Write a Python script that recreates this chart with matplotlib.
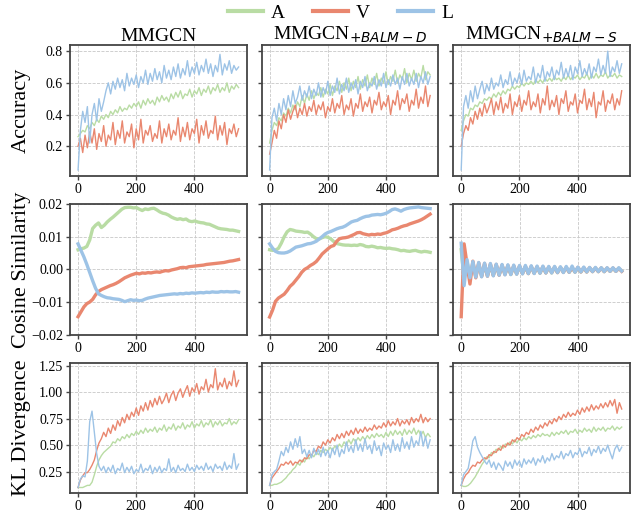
import numpy as np
import matplotlib
matplotlib.use("Agg")
import matplotlib.pyplot as plt

plt.rcParams['font.family'] = ['Liberation Serif', 'DejaVu Serif']
plt.rcParams['mathtext.fontset'] = 'dejavusans'

# ---- data ----
titles = ["MMGCN", "MMGCN$_{+BALM-D}$", "MMGCN$_{+BALM-S}$"]
row_labels = ["Accuracy", "Cosine Similarity", "KL Divergence"]
modalities = ["A", "V", "L"]
colors = {"A": "#b9dca4", "V": "#e9876f", "L": "#9dc3e6"}

# accuracy / KL sampled every 8 epochs, cosine similarity every 10 epochs
step_noisy = 8
step_cos = 10

acc_mm_A = [0.26, 0.28, 0.30, 0.29, 0.33, 0.31, 0.35, 0.33, 0.37, 0.35, 0.39, 0.37, 0.40, 0.38, 0.42, 0.40, 0.43, 0.41,
            0.45, 0.42, 0.44, 0.43, 0.46, 0.44, 0.47, 0.45, 0.48, 0.44, 0.49, 0.46, 0.50, 0.47, 0.49, 0.46, 0.51, 0.48,
            0.52, 0.49, 0.51, 0.48, 0.53, 0.50, 0.54, 0.51, 0.55, 0.50, 0.53, 0.52, 0.56, 0.51, 0.55, 0.53, 0.57, 0.52,
            0.56, 0.54, 0.58, 0.53, 0.57, 0.55, 0.59, 0.54, 0.57, 0.55, 0.60, 0.54, 0.58, 0.56, 0.59, 0.57]
acc_mm_V = [0.20, 0.25, 0.16, 0.27, 0.19, 0.29, 0.22, 0.31, 0.18, 0.28, 0.23, 0.33, 0.20, 0.27, 0.24, 0.35, 0.21, 0.30,
            0.25, 0.36, 0.22, 0.29, 0.26, 0.34, 0.19, 0.31, 0.24, 0.37, 0.22, 0.30, 0.27, 0.33, 0.23, 0.28, 0.25, 0.36,
            0.22, 0.31, 0.26, 0.34, 0.24, 0.30, 0.27, 0.38, 0.23, 0.32, 0.26, 0.35, 0.24, 0.31, 0.28, 0.37, 0.22, 0.33,
            0.27, 0.36, 0.25, 0.30, 0.28, 0.39, 0.24, 0.33, 0.27, 0.35, 0.21, 0.31, 0.28, 0.34, 0.26, 0.31]
acc_mm_L = [0.05, 0.30, 0.42, 0.35, 0.45, 0.22, 0.40, 0.47, 0.36, 0.50, 0.42, 0.48, 0.55, 0.60, 0.53, 0.61, 0.56, 0.63,
            0.57, 0.62, 0.55, 0.66, 0.58, 0.63, 0.59, 0.65, 0.57, 0.64, 0.60, 0.68, 0.59, 0.66, 0.61, 0.69, 0.62, 0.67,
            0.60, 0.71, 0.63, 0.68, 0.62, 0.70, 0.64, 0.72, 0.63, 0.69, 0.65, 0.74, 0.64, 0.70, 0.66, 0.73, 0.65, 0.71,
            0.67, 0.75, 0.66, 0.72, 0.64, 0.71, 0.67, 0.78, 0.65, 0.72, 0.68, 0.74, 0.66, 0.71, 0.68, 0.70]

acc_d_A = [0.22, 0.30, 0.35, 0.33, 0.38, 0.36, 0.41, 0.39, 0.44, 0.41, 0.46, 0.43, 0.48, 0.45, 0.52, 0.47, 0.53, 0.49,
           0.55, 0.50, 0.54, 0.52, 0.57, 0.51, 0.56, 0.53, 0.59, 0.52, 0.58, 0.55, 0.61, 0.54, 0.60, 0.56, 0.63, 0.55,
           0.61, 0.57, 0.64, 0.56, 0.62, 0.58, 0.65, 0.57, 0.63, 0.59, 0.66, 0.58, 0.63, 0.60, 0.67, 0.59, 0.64, 0.61,
           0.68, 0.60, 0.65, 0.62, 0.69, 0.60, 0.66, 0.62, 0.68, 0.61, 0.66, 0.63, 0.71, 0.62, 0.67, 0.65]
acc_d_V = [0.15, 0.22, 0.30, 0.25, 0.36, 0.31, 0.40, 0.35, 0.43, 0.37, 0.42, 0.46, 0.38, 0.44, 0.40, 0.47, 0.39, 0.45,
           0.42, 0.49, 0.40, 0.46, 0.43, 0.48, 0.38, 0.45, 0.42, 0.50, 0.41, 0.47, 0.44, 0.52, 0.40, 0.46, 0.43, 0.50,
           0.39, 0.47, 0.44, 0.53, 0.42, 0.48, 0.45, 0.51, 0.41, 0.49, 0.46, 0.54, 0.43, 0.48, 0.45, 0.52, 0.40, 0.49,
           0.46, 0.55, 0.43, 0.50, 0.47, 0.53, 0.42, 0.49, 0.46, 0.56, 0.44, 0.51, 0.47, 0.58, 0.45, 0.52]
acc_d_L = [0.05, 0.38, 0.44, 0.36, 0.47, 0.40, 0.50, 0.43, 0.52, 0.45, 0.55, 0.47, 0.51, 0.58, 0.49, 0.55, 0.51, 0.58,
           0.50, 0.56, 0.52, 0.60, 0.51, 0.57, 0.53, 0.61, 0.52, 0.58, 0.54, 0.63, 0.53, 0.59, 0.55, 0.63, 0.54, 0.60,
           0.56, 0.62, 0.53, 0.61, 0.57, 0.64, 0.55, 0.60, 0.58, 0.64, 0.56, 0.62, 0.58, 0.66, 0.57, 0.62, 0.58, 0.65,
           0.59, 0.63, 0.56, 0.64, 0.59, 0.66, 0.58, 0.63, 0.59, 0.66, 0.57, 0.64, 0.60, 0.67, 0.59, 0.64]

acc_s_A = [0.30, 0.36, 0.40, 0.39, 0.44, 0.43, 0.46, 0.45, 0.48, 0.47, 0.50, 0.49, 0.51, 0.50, 0.53, 0.51, 0.54, 0.52,
           0.55, 0.53, 0.56, 0.55, 0.58, 0.56, 0.58, 0.57, 0.60, 0.58, 0.60, 0.59, 0.61, 0.59, 0.62, 0.60, 0.62, 0.60,
           0.63, 0.61, 0.63, 0.61, 0.64, 0.62, 0.63, 0.61, 0.64, 0.62, 0.65, 0.62, 0.64, 0.63, 0.65, 0.62, 0.64, 0.63,
           0.66, 0.62, 0.65, 0.63, 0.66, 0.63, 0.65, 0.64, 0.67, 0.63, 0.65, 0.64, 0.66, 0.63, 0.65, 0.64]
acc_s_V = [0.20, 0.28, 0.33, 0.30, 0.38, 0.34, 0.42, 0.37, 0.44, 0.39, 0.47, 0.41, 0.45, 0.50, 0.40, 0.48, 0.43, 0.51,
           0.41, 0.47, 0.44, 0.53, 0.40, 0.48, 0.45, 0.52, 0.42, 0.49, 0.46, 0.55, 0.43, 0.48, 0.45, 0.53, 0.41, 0.50,
           0.46, 0.58, 0.43, 0.49, 0.45, 0.52, 0.40, 0.50, 0.47, 0.55, 0.42, 0.48, 0.46, 0.53, 0.41, 0.49, 0.47, 0.56,
           0.43, 0.50, 0.45, 0.54, 0.38, 0.48, 0.46, 0.55, 0.42, 0.49, 0.47, 0.53, 0.43, 0.50, 0.46, 0.55]
acc_s_L = [0.05, 0.45, 0.52, 0.44, 0.55, 0.48, 0.58, 0.50, 0.56, 0.61, 0.53, 0.59, 0.55, 0.63, 0.56, 0.60, 0.58, 0.65,
           0.57, 0.62, 0.59, 0.67, 0.58, 0.63, 0.60, 0.66, 0.59, 0.68, 0.61, 0.64, 0.62, 0.70, 0.60, 0.66, 0.63, 0.71,
           0.61, 0.67, 0.64, 0.70, 0.62, 0.68, 0.65, 0.73, 0.63, 0.69, 0.64, 0.71, 0.62, 0.70, 0.66, 0.74, 0.64, 0.69,
           0.65, 0.72, 0.63, 0.70, 0.67, 0.75, 0.65, 0.71, 0.66, 0.80, 0.64, 0.70, 0.67, 0.74, 0.66, 0.72]

# cosine similarity, in units of 1e-3
cos_mm_A = [6.0, 6.3, 6.5, 7.0, 9.0, 12.5, 13.5, 14.2, 12.8, 13.5, 14.5, 15.3, 16.0, 16.8, 17.6, 18.4, 18.9, 19.0,
            19.0, 18.8, 18.9, 18.4, 18.0, 18.5, 18.3, 18.6, 18.7, 18.2, 17.6, 17.2, 17.0, 16.6, 16.0, 15.6, 15.3, 15.5,
            15.2, 15.4, 14.8, 14.6, 14.8, 14.5, 14.3, 14.2, 13.9, 13.8, 13.4, 13.0, 12.6, 12.4, 12.3, 12.2, 12.0, 12.0,
            11.8, 11.6]
cos_mm_V = [-14.5, -13.0, -11.5, -10.5, -10.0, -9.2, -7.8, -6.8, -6.2, -5.8, -5.4, -5.0, -4.7, -4.3, -3.8, -3.2, -2.6,
            -2.2, -1.8, -1.5, -1.2, -1.4, -1.1, -1.2, -1.0, -1.1, -0.9, -0.8, -0.9, -0.6, -0.4, -0.5, -0.2, 0.0, 0.2,
            0.5, 0.6, 0.5, 0.8, 0.9, 1.0, 1.1, 1.2, 1.3, 1.5, 1.6, 1.7, 1.8, 1.9, 2.0, 2.1, 2.3, 2.5, 2.6, 2.8, 3.0]
cos_mm_L = [7.8, 5.8, 3.8, 1.5, -1.0, -3.5, -5.8, -7.5, -8.0, -8.4, -8.7, -8.8, -9.0, -9.1, -9.2, -9.5, -9.9, -9.6,
            -9.3, -9.5, -9.4, -9.6, -9.5, -9.1, -8.8, -8.6, -8.4, -8.2, -8.0, -7.9, -7.8, -7.7, -7.6, -7.5, -7.6, -7.4,
            -7.5, -7.3, -7.4, -7.2, -7.3, -7.2, -7.1, -7.2, -7.0, -7.1, -6.9, -7.0, -7.0, -6.8, -6.9, -6.8, -6.9, -6.9,
            -6.8, -7.0]

cos_d_A = [6.0, 5.8, 5.9, 6.4, 8.0, 10.0, 11.5, 12.2, 12.0, 11.7, 11.6, 11.5, 11.3, 11.4, 10.8, 10.0, 9.4, 9.3, 9.7,
           10.0, 9.8, 9.3, 8.5, 7.9, 7.7, 7.5, 7.4, 7.4, 7.3, 7.4, 7.3, 7.6, 7.4, 7.0, 6.9, 7.1, 6.9, 6.6, 6.7, 6.5,
           6.4, 6.5, 6.3, 6.2, 6.0, 5.7, 5.8, 5.6, 5.5, 5.7, 5.8, 5.5, 5.3, 5.5, 5.4, 5.2]
cos_d_V = [-14.6, -12.5, -9.8, -8.8, -8.2, -7.6, -6.5, -5.2, -4.4, -3.3, -2.2, -0.9, 0.0, 0.5, 1.2, 1.7, 2.4, 3.5,
           4.7, 5.5, 6.3, 7.0, 7.3, 8.6, 9.4, 9.6, 9.7, 9.9, 10.3, 10.7, 11.2, 11.3, 10.9, 10.7, 10.5, 10.7, 10.6, 10.8,
           10.7, 11.0, 11.2, 11.6, 12.1, 12.3, 12.6, 13.0, 13.3, 13.5, 13.9, 14.2, 14.5, 14.8, 15.2, 15.7, 16.3, 16.9]
cos_d_L = [7.8, 6.5, 5.5, 5.1, 5.0, 5.0, 5.2, 5.6, 6.2, 6.8, 7.0, 7.2, 7.5, 7.8, 7.9, 8.2, 8.6, 9.3, 10.0, 10.8, 11.3,
           11.6, 12.0, 12.4, 12.7, 12.9, 13.3, 13.9, 14.5, 14.8, 15.0, 15.5, 15.9, 16.2, 16.3, 16.6, 16.7, 16.8, 16.7,
           16.9, 17.2, 17.7, 18.3, 18.5, 18.2, 17.8, 18.3, 18.6, 18.8, 18.9, 19.0, 19.1, 18.9, 18.8, 18.7, 18.6]

cos_s_A = [6.0, -3.0, 2.2, -2.2, 1.8, -2.2, 1.6, -2.0, 1.4, -2.0, 1.3, -1.8, 1.2, -1.7, 1.1, -1.5, 1.0, -1.6, 0.9,
           -1.4, 0.9, -1.3, 0.8, -1.3, 0.8, -1.2, 0.7, -1.2, 0.7, -1.1, 0.6, -1.1, 0.6, -1.0, 0.6, -0.9, 0.5, -0.9,
           0.5, -0.9, 0.5, -0.8, 0.4, -0.8, 0.4, -0.7, 0.4, -0.7, 0.4, -0.7, 0.3, -0.6, 0.3, -0.6, 0.3, -0.5]
cos_s_V = [-14.5, 7.8, 1.5, -4.5, 2.5, -2.6, 2.0, -2.2, 1.8, -2.1, 1.6, -1.9, 1.5, -1.8, 1.3, -1.6, 1.2, -1.5, 1.1,
           -1.4, 1.0, -1.3, 0.9, -1.3, 0.9, -1.2, 0.8, -1.1, 0.8, -1.1, 0.7, -1.0, 0.7, -1.0, 0.6, -0.9, 0.6, -0.9,
           0.5, -0.8, 0.6, -0.8, 0.5, -0.8, 0.5, -0.7, 0.4, -0.7, 0.4, -0.7, 0.4, -0.6, 0.4, -0.6, 0.3, -0.6]
cos_s_L = [8.0, -5.0, 3.0, -2.6, 2.4, -2.4, 2.1, -2.3, 1.9, -2.1, 1.8, -2.0, 1.6, -1.8, 1.5, -1.7, 1.4, -1.6, 1.3,
           -1.5, 1.2, -1.4, 1.2, -1.3, 1.1, -1.3, 1.0, -1.2, 1.0, -1.1, 0.9, -1.1, 0.9, -1.0, 0.8, -1.0, 0.9, -0.9,
           1.0, -0.9, 0.7, -0.8, 0.7, -0.8, 0.6, -0.7, 0.6, -0.7, 0.5, -0.7, 0.5, -0.6, 0.5, -0.6, 0.5, -0.5]

kl_mm_A = [0.10, 0.10, 0.10, 0.11, 0.12, 0.12, 0.15, 0.22, 0.30, 0.36, 0.40, 0.43, 0.45, 0.47, 0.49, 0.53, 0.52, 0.56,
           0.54, 0.58, 0.56, 0.60, 0.57, 0.61, 0.59, 0.63, 0.60, 0.64, 0.61, 0.66, 0.62, 0.65, 0.63, 0.67, 0.62, 0.66,
           0.64, 0.69, 0.63, 0.67, 0.65, 0.70, 0.64, 0.68, 0.66, 0.71, 0.65, 0.69, 0.67, 0.72, 0.66, 0.70, 0.68, 0.73,
           0.67, 0.71, 0.69, 0.74, 0.67, 0.72, 0.69, 0.73, 0.68, 0.71, 0.70, 0.75, 0.69, 0.72, 0.70, 0.74]
kl_mm_V = [0.10, 0.17, 0.21, 0.24, 0.24, 0.27, 0.31, 0.36, 0.45, 0.52, 0.56, 0.62, 0.58, 0.66, 0.61, 0.69, 0.64, 0.73,
           0.68, 0.76, 0.71, 0.79, 0.74, 0.81, 0.77, 0.85, 0.78, 0.87, 0.82, 0.90, 0.83, 0.92, 0.86, 0.94, 0.88, 0.96,
           0.89, 0.93, 0.99, 0.90, 0.97, 1.01, 0.92, 0.99, 1.03, 0.95, 1.01, 1.06, 0.96, 1.04, 1.00, 1.08, 0.98, 1.05,
           1.02, 1.12, 1.00, 1.07, 1.04, 1.22, 1.02, 1.09, 1.05, 1.13, 1.03, 1.10, 1.06, 1.20, 1.05, 1.11]
kl_mm_L = [0.10, 0.18, 0.21, 0.20, 0.35, 0.72, 0.82, 0.62, 0.42, 0.30, 0.26, 0.30, 0.24, 0.29, 0.25, 0.31, 0.23, 0.28,
           0.26, 0.33, 0.24, 0.29, 0.25, 0.30, 0.23, 0.27, 0.25, 0.32, 0.24, 0.28, 0.26, 0.31, 0.23, 0.29, 0.25, 0.30,
           0.24, 0.28, 0.26, 0.37, 0.25, 0.29, 0.24, 0.31, 0.26, 0.28, 0.25, 0.32, 0.26, 0.29, 0.25, 0.31, 0.27, 0.30,
           0.26, 0.33, 0.27, 0.30, 0.25, 0.32, 0.28, 0.30, 0.26, 0.34, 0.27, 0.31, 0.28, 0.42, 0.27, 0.32]

kl_d_A = [0.12, 0.12, 0.13, 0.13, 0.14, 0.15, 0.17, 0.19, 0.22, 0.24, 0.27, 0.29, 0.33, 0.31, 0.36, 0.34, 0.39, 0.37,
          0.41, 0.39, 0.43, 0.41, 0.45, 0.43, 0.46, 0.44, 0.48, 0.45, 0.49, 0.47, 0.51, 0.48, 0.53, 0.50, 0.55, 0.51,
          0.56, 0.53, 0.57, 0.54, 0.58, 0.55, 0.59, 0.56, 0.60, 0.57, 0.61, 0.58, 0.60, 0.57, 0.62, 0.58, 0.63, 0.59,
          0.64, 0.60, 0.63, 0.59, 0.65, 0.60, 0.64, 0.61, 0.66, 0.60, 0.64, 0.59, 0.63, 0.57, 0.61, 0.58]
kl_d_V = [0.12, 0.19, 0.22, 0.25, 0.28, 0.32, 0.31, 0.34, 0.32, 0.35, 0.31, 0.34, 0.33, 0.36, 0.34, 0.38, 0.37, 0.41,
          0.40, 0.45, 0.44, 0.49, 0.47, 0.53, 0.50, 0.55, 0.52, 0.57, 0.54, 0.60, 0.56, 0.61, 0.57, 0.63, 0.59, 0.64,
          0.60, 0.66, 0.61, 0.65, 0.62, 0.67, 0.63, 0.66, 0.64, 0.69, 0.65, 0.68, 0.66, 0.71, 0.67, 0.73, 0.68, 0.72,
          0.69, 0.75, 0.68, 0.73, 0.70, 0.74, 0.69, 0.76, 0.71, 0.75, 0.72, 0.79, 0.71, 0.76, 0.72, 0.75]
kl_d_L = [0.12, 0.22, 0.25, 0.27, 0.35, 0.44, 0.40, 0.48, 0.43, 0.53, 0.46, 0.56, 0.48, 0.58, 0.42, 0.46, 0.39, 0.45,
          0.38, 0.47, 0.41, 0.46, 0.39, 0.48, 0.40, 0.45, 0.38, 0.47, 0.41, 0.50, 0.39, 0.46, 0.42, 0.53, 0.44, 0.49,
          0.43, 0.55, 0.45, 0.51, 0.44, 0.56, 0.46, 0.50, 0.42, 0.54, 0.45, 0.49, 0.40, 0.52, 0.46, 0.50, 0.43, 0.55,
          0.45, 0.51, 0.44, 0.57, 0.47, 0.53, 0.46, 0.58, 0.48, 0.54, 0.50, 0.63, 0.49, 0.58, 0.47, 0.55]

kl_s_A = [0.12, 0.11, 0.11, 0.12, 0.14, 0.17, 0.20, 0.24, 0.28, 0.32, 0.35, 0.39, 0.38, 0.43, 0.42, 0.46, 0.45, 0.49,
          0.47, 0.51, 0.50, 0.53, 0.51, 0.55, 0.52, 0.56, 0.54, 0.57, 0.55, 0.58, 0.56, 0.59, 0.57, 0.60, 0.58, 0.61,
          0.59, 0.60, 0.58, 0.62, 0.59, 0.62, 0.60, 0.63, 0.61, 0.64, 0.60, 0.63, 0.62, 0.65, 0.61, 0.64, 0.62, 0.66,
          0.63, 0.65, 0.62, 0.67, 0.63, 0.66, 0.64, 0.67, 0.63, 0.66, 0.65, 0.68, 0.64, 0.67, 0.65, 0.67]
kl_s_V = [0.12, 0.18, 0.22, 0.24, 0.28, 0.31, 0.30, 0.34, 0.33, 0.36, 0.38, 0.37, 0.41, 0.40, 0.44, 0.43, 0.47, 0.45,
          0.50, 0.48, 0.52, 0.50, 0.55, 0.53, 0.57, 0.55, 0.60, 0.58, 0.62, 0.60, 0.65, 0.62, 0.67, 0.64, 0.69, 0.66,
          0.71, 0.68, 0.73, 0.70, 0.75, 0.72, 0.77, 0.74, 0.79, 0.76, 0.81, 0.77, 0.80, 0.78, 0.83, 0.79, 0.85, 0.81,
          0.86, 0.82, 0.88, 0.83, 0.87, 0.84, 0.89, 0.85, 0.90, 0.86, 0.92, 0.87, 0.93, 0.80, 0.90, 0.84]
kl_s_L = [0.12, 0.22, 0.25, 0.28, 0.40, 0.54, 0.58, 0.48, 0.43, 0.39, 0.35, 0.32, 0.36, 0.29, 0.34, 0.27, 0.33, 0.30,
          0.26, 0.35, 0.30, 0.34, 0.28, 0.36, 0.31, 0.35, 0.29, 0.37, 0.32, 0.36, 0.33, 0.38, 0.31, 0.37, 0.34, 0.40,
          0.33, 0.38, 0.35, 0.42, 0.36, 0.40, 0.38, 0.44, 0.37, 0.42, 0.40, 0.45, 0.38, 0.43, 0.41, 0.47, 0.39, 0.44,
          0.42, 0.48, 0.40, 0.46, 0.43, 0.49, 0.42, 0.47, 0.44, 0.50, 0.43, 0.37, 0.46, 0.50, 0.44, 0.48]

grid_data = [
    [(acc_mm_A, acc_mm_V, acc_mm_L), (acc_d_A, acc_d_V, acc_d_L), (acc_s_A, acc_s_V, acc_s_L)],
    [(cos_mm_A, cos_mm_V, cos_mm_L), (cos_d_A, cos_d_V, cos_d_L), (cos_s_A, cos_s_V, cos_s_L)],
    [(kl_mm_A, kl_mm_V, kl_mm_L), (kl_d_A, kl_d_V, kl_d_L), (kl_s_A, kl_s_V, kl_s_L)],
]
cos_scale = 1e-3

fig, axes = plt.subplots(3, 3, figsize=(6.31, 5.14), dpi=100, sharey='row')
fig.subplots_adjust(left=0.111, right=0.998, top=0.912, bottom=0.040, wspace=0.085, hspace=0.215)

for r in range(3):
    for c in range(3):
        ax = axes[r, c]
        for name, ys in zip(modalities, grid_data[r][c]):
            ys = np.asarray(ys, dtype=float)
            if r == 1:
                x = np.arange(len(ys)) * step_cos
                ax.plot(x, ys * cos_scale, color=colors[name], lw=2.4, label=name)
            else:
                x = np.arange(len(ys)) * step_noisy
                ax.plot(x, ys, color=colors[name], lw=1.0, label=name)
        ax.set_xticks([0, 200, 400])
        ax.grid(True, ls='--', lw=0.6, color='#c8c8c8')
        ax.set_axisbelow(True)
        for sp in ax.spines.values():
            sp.set_color('#444444')
            sp.set_linewidth(1.3)
        ax.tick_params(labelsize=10, length=3, width=1.0, pad=2, color='#444444')
        if r == 0:
            ax.set_title(titles[c], fontsize=14, pad=3)
    axes[r, 0].set_ylabel(row_labels[r], fontsize=16)
    axes[r, 0].yaxis.set_label_coords(-0.22, 0.5)

axes[0, 0].set_yticks([0.2, 0.4, 0.6, 0.8])
axes[1, 0].set_ylim(-0.02, 0.02)
axes[1, 0].set_yticks([-0.02, -0.01, 0.0, 0.01, 0.02])
axes[2, 0].set_yticks([0.25, 0.5, 0.75, 1.0, 1.25])

handles, labels = axes[0, 0].get_legend_handles_labels()
leg = fig.legend(handles, labels, loc='upper center', bbox_to_anchor=(0.54, 1.025), ncol=3,
                 frameon=False, fontsize=14, handlelength=1.8, columnspacing=1.45, handletextpad=0.4)
for line in leg.get_lines():
    line.set_linewidth(3)

fig.savefig("out.png", dpi=100)
